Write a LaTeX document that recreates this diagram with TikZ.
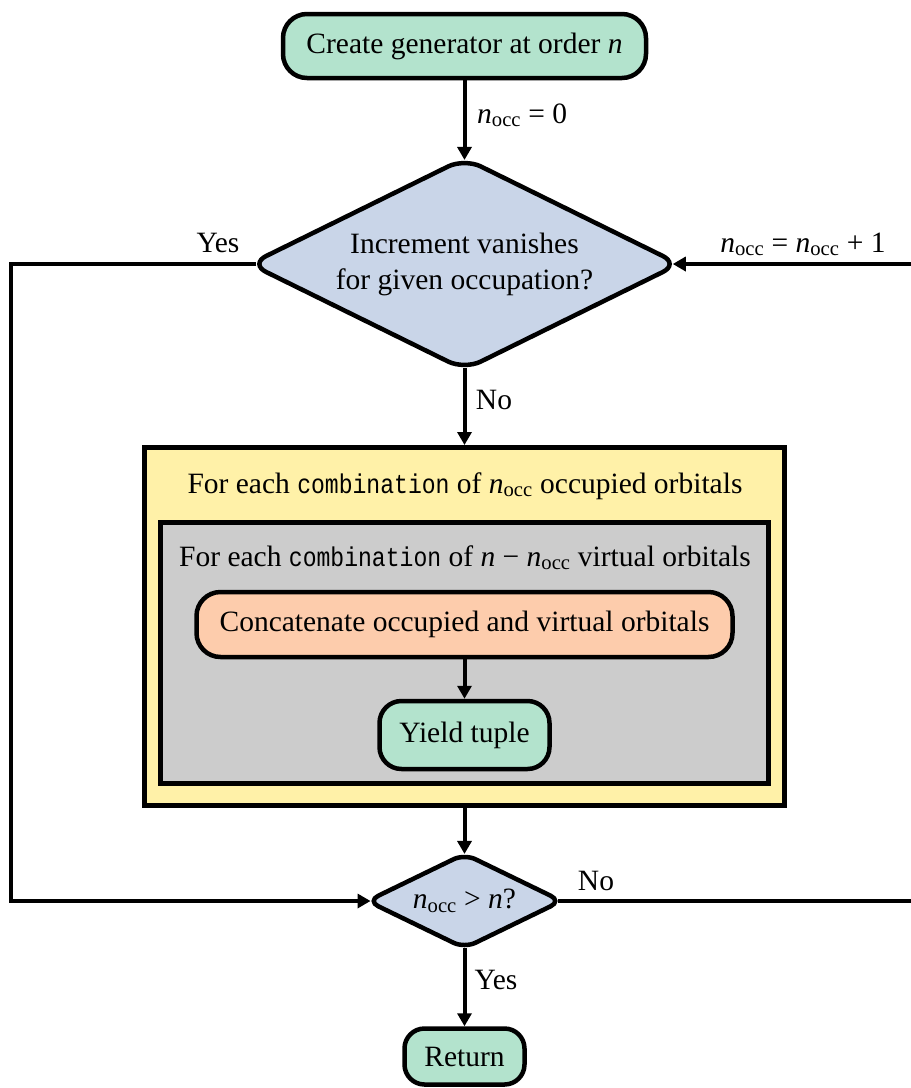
\documentclass[tikz,border=0pt]{standalone}
\usepackage{fontspec}
\setmainfont{Liberation Serif}
\newfontfamily\codefont[Scale=0.92, FakeStretch=0.85]{Liberation Mono}
\usetikzlibrary{shapes.geometric,arrows.meta}
\newcommand\occn{\textit{n}\textsubscript{occ}}

\definecolor{mint}{HTML}{B3E3CD}
\definecolor{bluegray}{HTML}{C9D5E8}
\definecolor{loopyellow}{HTML}{FFF1A8}
\definecolor{loopgray}{HTML}{CCCCCC}
\definecolor{peach}{HTML}{FDCCAC}

\tikzset{
  stepbox/.style={draw, line width=4.5pt, rounded corners=24pt, fill=mint,
    inner sep=0pt, align=center},
  decision/.style={diamond, aspect=2, draw, line width=4.5pt, fill=bluegray,
    inner sep=0pt, align=center},
  loopbox/.style={draw, line width=5pt, inner sep=0pt},
  flow/.style={line width=4pt, -{Triangle[length=13pt,width=14pt]}},
  lbl/.style={inner sep=0pt, anchor=base},
}

\begin{document}
\begin{tikzpicture}[x=1pt, y=-1pt, font=\fontsize{29.5}{36}\selectfont]
  \useasboundingbox (0,0) rectangle (911,1088);

  % main column
  \node[stepbox, minimum width=363pt, minimum height=64pt] (start) at (464.5,46)
    {Create generator at order \textit{n}};
  \node[decision, rounded corners=18pt, minimum width=431pt, minimum height=213pt]
    (vanish) at (464.5,264) {Increment vanishes\\for given occupation?};

  % nested loops
  \node[loopbox, fill=loopyellow, minimum width=640pt, minimum height=358pt]
    (occloop) at (464.5,626.5) {};
  \node[lbl] (occtitle) at (465,493)
    {For each {\codefont combination} of \occn{} occupied orbitals};
  \node[loopbox, fill=loopgray, minimum width=608pt, minimum height=261pt]
    (virtloop) at (464.5,653) {};
  \node[lbl] (virttitle) at (465,566)
    {For each {\codefont combination} of \textit{n} − \occn{} virtual orbitals};
  \node[stepbox, fill=peach, minimum width=536pt, minimum height=65pt]
    (concat) at (464.5,624.5) {Concatenate occupied and virtual orbitals};
  \node[stepbox, rounded corners=22pt, minimum width=170pt, minimum height=68pt]
    (yield) at (464.5,735) {Yield tuple};

  % exit test and end
  \node[decision, rounded corners=12pt, minimum width=196pt, minimum height=96pt]
    (check) at (464.5,901) {\occn{} > \textit{n}?};
  \node[stepbox, rounded corners=20pt, minimum width=120pt, minimum height=56pt]
    (ret) at (464.5,1056.5) {Return};

  % lanes running along the page edges
  \coordinate (leftlane) at (11,264);
  \coordinate (rightlane) at (930,901);

  % connectors (negative shortening reaches the rounded diamond tips)
  \draw[flow, shorten >=-4.7pt] (start.south) -- (vanish.north);
  \draw[flow, shorten <=-4.7pt] (vanish.south) -- (occloop.north);
  \draw[flow] (concat.south) -- (yield.north);
  \draw[flow, shorten >=-3.2pt] (occloop.south) -- (check.north);
  \draw[flow, shorten <=-3.2pt] (check.south) -- (ret.north);
  \draw[flow, shorten <=-9.5pt, shorten >=-6.3pt]
    (vanish.west) -- (leftlane) |- (check.west);
  \draw[flow, shorten <=-6.3pt, shorten >=-9.5pt]
    (check.east) -- (rightlane) |- (vanish.east);

  % connector labels
  \node[lbl, anchor=base west] (initlbl) at (477,123) {\occn{} = 0};
  \node[lbl] (yeslbl) at (218,252) {Yes};
  \node[lbl] (inclbl) at (803,252) {\occn{} = \occn{} + 1};
  \node[lbl] (nolbl) at (494,409) {No};
  \node[lbl] (againlbl) at (596,890) {No};
  \node[lbl] (donelbl) at (496,989) {Yes};
\end{tikzpicture}
\end{document}
